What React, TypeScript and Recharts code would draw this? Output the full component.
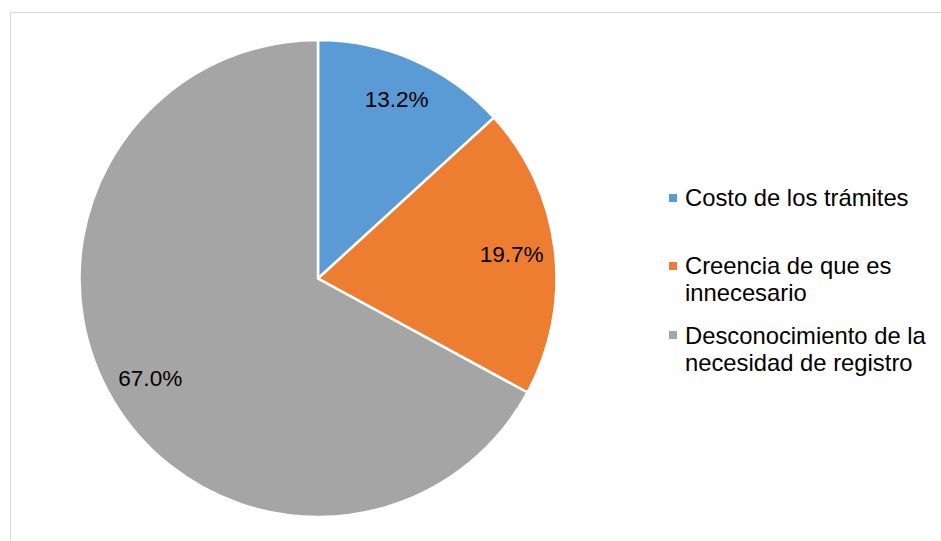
import React from 'react'
import { PieChart, Pie, Cell, Legend } from 'recharts'

const categories = [
  'Costo de los trámites',
  'Creencia de que es innecesario',
  'Desconocimiento de la necesidad de registro',
]
const legendLines = [
  ['Costo de los trámites'],
  ['Creencia de que es', 'innecesario'],
  ['Desconocimiento de la', 'necesidad de registro'],
]
const shares = [13.2, 19.7, 67.0]
const colors = ['#5B9BD5', '#ED7D31', '#A5A5A5']

const data = categories.map((name, i) => ({ name, value: shares[i] }))

const FONT = 'Arial, "Liberation Sans", sans-serif'
const RAD = Math.PI / 180

function SliceLabel({ cx, cy, midAngle, outerRadius, value }: any) {
  const r = outerRadius * 0.818
  const x = cx + r * Math.cos(-midAngle * RAD)
  const y = cy + r * Math.sin(-midAngle * RAD)
  return (
    <text x={x} y={y} textAnchor="middle" dominantBaseline="central"
      fontFamily={FONT} fontSize={22.6} fill="#000">
      {value.toFixed(1)}%
    </text>
  )
}

function LegendBox() {
  const gaps = [0, 41, 15.5]
  return (
    <div style={{ fontFamily: FONT, fontSize: 23.8, color: '#000', lineHeight: '27px' }}>
      {legendLines.map((lines, i) => (
        <div key={i} style={{ display: 'flex', marginTop: gaps[i] }}>
          <div style={{ width: 8, height: 8, flex: 'none', background: colors[i], marginTop: 9.5, marginRight: 8 }} />
          <div style={{ whiteSpace: 'nowrap' }}>
            {lines.map((l, j) => <div key={j}>{l}</div>)}
          </div>
        </div>
      ))}
    </div>
  )
}

export default function App() {
  return (
    <div style={{ position: 'absolute', left: 0, top: 0, width: 941, height: 541, overflow: 'hidden', background: '#fff' }}>
      <div style={{ position: 'absolute', left: 10, top: 12, width: 1000, height: 600, border: '1.5px solid #D9D9D9', boxSizing: 'border-box' }} />
      <div style={{ position: 'absolute', left: 0, top: 0 }}>
        <PieChart width={941} height={541}>
          <Pie
            data={data}
            dataKey="value"
            nameKey="name"
            cx={313}
            cy={273.5}
            outerRadius={238.5}
            startAngle={90}
            endAngle={-270}
            stroke="#fff"
            strokeWidth={2.5}
            label={SliceLabel}
            labelLine={false}
            isAnimationActive={false}
          >
            {data.map((d, i) => <Cell key={d.name} fill={colors[i]} />)}
          </Pie>
          <Legend
            content={<LegendBox />}
            wrapperStyle={{ left: 669, top: 184, width: 270 }}
          />
        </PieChart>
      </div>
    </div>
  )
}
